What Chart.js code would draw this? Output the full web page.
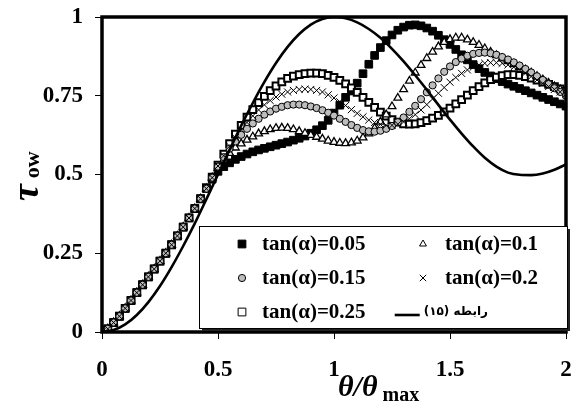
<!DOCTYPE html>
<html>
<head>
<meta charset="utf-8">
<script src="https://cdn.jsdelivr.net/npm/chart.js@4.4.1/dist/chart.umd.min.js"></script>
<style>
    html, body { margin: 0; padding: 0; background: #fff; }
    #wrap { width: 576px; height: 403px; }
</style>
</head>
<body>
<div id="wrap"><canvas id="tauChart" width="576" height="403"></canvas></div>
<script>
// theta/theta_max sampling of the marker series and of the solid curve
const STEP = 0.025;
const LINE_STEP = 0.05;

// x = 0 .. 0.425, shared by every tan(alpha) series
const commonRise = [0, 0.01, 0.03, 0.05, 0.075, 0.1, 0.125, 0.15, 0.175, 0.2,
    0.225, 0.25, 0.277, 0.305, 0.333, 0.362, 0.392, 0.423];

// x = 0.45 .. 2.0
const tan005 = [
    0.455, 0.485, 0.51, 0.525, 0.537, 0.548, 0.557, 0.565, 0.572, 0.578,
    0.583, 0.588, 0.593, 0.598, 0.603, 0.609, 0.615, 0.622, 0.631, 0.642,
    0.655, 0.672, 0.695, 0.72, 0.745, 0.765, 0.79, 0.82, 0.85, 0.878,
    0.903, 0.925, 0.943, 0.958, 0.968, 0.974, 0.975, 0.972, 0.965, 0.955,
    0.942, 0.928, 0.913, 0.897, 0.88, 0.864, 0.849, 0.836, 0.824, 0.813,
    0.804, 0.795, 0.787, 0.78, 0.773, 0.766, 0.759, 0.752, 0.745, 0.738,
    0.731, 0.724, 0.717];
const tan01 = [
    0.455, 0.49, 0.52, 0.547, 0.568, 0.585, 0.598, 0.61, 0.62, 0.63,
    0.637, 0.643, 0.647, 0.648, 0.647, 0.643, 0.637, 0.631, 0.625, 0.619,
    0.613, 0.607, 0.603, 0.60, 0.599, 0.601, 0.607, 0.617, 0.63, 0.647,
    0.667, 0.69, 0.716, 0.743, 0.77, 0.797, 0.823, 0.847, 0.869, 0.889,
    0.906, 0.92, 0.929, 0.934, 0.934, 0.928, 0.92, 0.911, 0.90, 0.889,
    0.878, 0.868, 0.859, 0.85, 0.841, 0.832, 0.823, 0.812, 0.801, 0.79,
    0.779, 0.77, 0.762];
const tan015 = [
    0.455, 0.49, 0.525, 0.555, 0.582, 0.605, 0.626, 0.645, 0.662, 0.677,
    0.69, 0.70, 0.709, 0.715, 0.72, 0.722, 0.722, 0.72, 0.716, 0.711,
    0.704, 0.696, 0.687, 0.677, 0.667, 0.657, 0.648, 0.641, 0.637, 0.636,
    0.639, 0.645, 0.654, 0.666, 0.681, 0.699, 0.718, 0.739, 0.761, 0.783,
    0.805, 0.826, 0.843, 0.857, 0.868, 0.877, 0.883, 0.886, 0.887, 0.885,
    0.88, 0.873, 0.865, 0.856, 0.846, 0.835, 0.824, 0.812, 0.80, 0.787,
    0.774, 0.762, 0.75];
const tan02 = [
    0.455, 0.49, 0.527, 0.56, 0.59, 0.617, 0.642, 0.665, 0.686, 0.705,
    0.721, 0.735, 0.746, 0.755, 0.762, 0.767, 0.77, 0.771, 0.77, 0.767,
    0.762, 0.753, 0.743, 0.731, 0.719, 0.706, 0.694, 0.683, 0.673, 0.665,
    0.659, 0.656, 0.656, 0.66, 0.667, 0.677, 0.69, 0.705, 0.722, 0.74,
    0.758, 0.776, 0.793, 0.808, 0.821, 0.832, 0.841, 0.848, 0.853, 0.855,
    0.855, 0.853, 0.848, 0.841, 0.832, 0.822, 0.811, 0.80, 0.789, 0.779,
    0.77, 0.762, 0.755];
const tan025 = [
    0.458, 0.492, 0.53, 0.565, 0.598, 0.628, 0.656, 0.682, 0.706, 0.728,
    0.748, 0.766, 0.781, 0.794, 0.805, 0.812, 0.817, 0.82, 0.822, 0.822,
    0.82, 0.815, 0.808, 0.799, 0.788, 0.775, 0.761, 0.745, 0.729, 0.713,
    0.698, 0.685, 0.674, 0.666, 0.661, 0.66, 0.661, 0.665, 0.671, 0.679,
    0.688, 0.699, 0.711, 0.724, 0.738, 0.752, 0.766, 0.779, 0.791, 0.801,
    0.809, 0.814, 0.817, 0.817, 0.815, 0.811, 0.806, 0.80, 0.793, 0.786,
    0.779, 0.772, 0.765];

// solid curve, x = 0 .. 2.0 every 0.05
const relation15 = [
    0, 0.006, 0.024, 0.054, 0.095, 0.146, 0.206, 0.273, 0.345, 0.422,
    0.5, 0.578, 0.655, 0.727, 0.794, 0.854, 0.905, 0.946, 0.976, 0.994,
    1.0, 0.996, 0.983, 0.962, 0.934, 0.899, 0.859, 0.815, 0.769, 0.721,
    0.674, 0.63, 0.589, 0.553, 0.525, 0.506, 0.499, 0.498, 0.503, 0.515,
    0.532];

const xTicks = [0, 0.5, 1, 1.5, 2];
const yTicks = [0, 0.25, 0.5, 0.75, 1];

const SERIF = '"Liberation Serif", "Times New Roman", serif';

function toPoints(values, step) {
    return values.map((v, i) => ({ x: i * step, y: v }));
}

// z: stacking of the marker series (higher = further back)
const seriesDefs = [
    { label: 'tan(α)=0.05', values: tan005, pointStyle: 'rect', radius: 5.4, fill: '#000', bw: 1, legendR: 5.5, z: 6 },
    { label: 'tan(α)=0.1', values: tan01, pointStyle: 'triangle', radius: 4.5, fill: '#fff', bw: 1.3, legendR: 4, z: 4 },
    { label: 'tan(α)=0.15', values: tan015, pointStyle: 'circle', radius: 3.6, fill: '#bdbdbd', bw: 1, legendR: 3.6, z: 3 },
    { label: 'tan(α)=0.2', values: tan02, pointStyle: 'crossRot', radius: 5, fill: '#000', bw: 1, legendR: 4.5, z: 2 },
    { label: 'tan(α)=0.25', values: tan025, pointStyle: 'rect', radius: 4.8, fill: '#fff', bw: 2, legendR: 5.5, z: 5 }
];

const datasets = seriesDefs.map(s => ({
    label: s.label,
    data: toPoints(commonRise.concat(s.values), STEP),
    showLine: false,
    pointStyle: s.pointStyle,
    pointRadius: s.radius,
    pointHoverRadius: s.radius,
    backgroundColor: s.fill,
    borderColor: '#000',
    borderWidth: s.bw,
    order: s.z
}));

datasets.push({
    label: 'رابطه (۱۵)',
    data: toPoints(relation15, LINE_STEP),
    showLine: true,
    borderColor: '#000',
    borderWidth: 2.6,
    pointRadius: 0,
    cubicInterpolationMode: 'monotone',
    order: 0
});

const framePlugin = {
    id: 'frameAndLegend',
    afterDraw(chart) {
        const ctx = chart.ctx;
        const a = chart.chartArea;
        ctx.save();

        // thick plot frame
        ctx.strokeStyle = '#000';
        ctx.lineWidth = 3.5;
        ctx.strokeRect(a.left, a.top, a.right - a.left, a.bottom - a.top);

        // legend box with shadow
        const bx = 199, by = 226, bw = 368, bh = 102;
        ctx.fillStyle = '#222';
        ctx.fillRect(bx + 3, by + 3, bw, bh);
        ctx.fillStyle = '#fff';
        ctx.fillRect(bx, by, bw, bh);
        ctx.lineWidth = 1;
        ctx.strokeStyle = '#000';
        ctx.strokeRect(bx + 0.5, by + 0.5, bw, bh);

        const rows = [244, 278, 312];
        const slots = [
            [242, 262, rows[0]], [423, 445, rows[0]],
            [242, 262, rows[1]], [423, 445, rows[1]],
            [242, 262, rows[2]]
        ];
        ctx.font = 'bold 21px ' + SERIF;
        ctx.textBaseline = 'middle';
        ctx.textAlign = 'left';
        seriesDefs.forEach((s, i) => {
            const [mx, tx, ty] = slots[i];
            ctx.fillStyle = s.fill;
            ctx.strokeStyle = '#000';
            ctx.lineWidth = 1;
            Chart.helpers.drawPoint(ctx, { pointStyle: s.pointStyle, radius: s.legendR, rotation: 0, borderWidth: 1 }, mx, ty);
            ctx.fillStyle = '#000';
            ctx.fillText(s.label, tx, ty + 1);
        });

        // solid curve entry
        ctx.fillStyle = '#000';
        ctx.direction = 'rtl';
        ctx.textAlign = 'right';
        ctx.font = 'bold 12px "DejaVu Sans", sans-serif';
        const textRight = 488;
        const lw = ctx.measureText(datasets[5].label).width;
        ctx.fillText(datasets[5].label, textRight, rows[2]);
        ctx.direction = 'ltr';
        const lineEnd = textRight - lw - 4;
        ctx.strokeStyle = '#000';
        ctx.lineWidth = 2.6;
        ctx.beginPath();
        ctx.moveTo(lineEnd - 25, rows[2] + 3);
        ctx.lineTo(lineEnd, rows[2] + 3);
        ctx.stroke();

        // axis titles
        ctx.textAlign = 'left';
        ctx.textBaseline = 'alphabetic';
        ctx.font = 'italic bold 30px ' + SERIF;
        ctx.fillText('θ/θ', 338, 396);
        const w = ctx.measureText('θ/θ').width;
        ctx.font = 'bold 20px ' + SERIF;
        ctx.fillText('max', 338 + w + 5, 401);

        ctx.translate(38, 201);
        ctx.rotate(-Math.PI / 2);
        ctx.font = 'italic bold 38px ' + SERIF;
        ctx.fillText('τ', 0, 0);
        const tw = ctx.measureText('τ').width;
        ctx.font = 'bold 22px ' + SERIF;
        ctx.fillText('ow', tw + 6, 1);

        ctx.restore();
    }
};

const tickFont = { family: SERIF, size: 23, weight: 'bold' };

new Chart(document.getElementById('tauChart'), {
    type: 'scatter',
    data: { datasets: datasets },
    options: {
        responsive: false,
        animation: false,
        layout: { padding: { top: 17, right: 10, left: 0, bottom: 0 } },
        plugins: { legend: { display: false }, tooltip: { enabled: false } },
        scales: {
            x: {
                type: 'linear',
                min: 0,
                max: 2,
                afterBuildTicks: scale => { scale.ticks = xTicks.map(v => ({ value: v })); },
                afterFit: scale => {
                    scale.height = 71;
                    scale.paddingLeft = 0;
                    scale.paddingRight = 0;
                },
                ticks: { font: tickFont, color: '#000', padding: 17, callback: v => String(v), maxRotation: 0 },
                grid: { drawOnChartArea: false, drawTicks: true, tickLength: 7, color: '#000', lineWidth: 1 },
                border: { display: false }
            },
            y: {
                type: 'linear',
                min: 0,
                max: 1,
                afterBuildTicks: scale => { scale.ticks = yTicks.map(v => ({ value: v })); },
                afterFit: scale => {
                    scale.width = 102;
                    scale.paddingTop = 0;
                    scale.paddingBottom = 0;
                },
                ticks: { font: tickFont, color: '#000', padding: 12, callback: v => String(v) },
                grid: { drawOnChartArea: false, drawTicks: true, tickLength: 7, color: '#000', lineWidth: 1 },
                border: { display: false }
            }
        }
    },
    plugins: [framePlugin]
});
</script>
</body>
</html>
